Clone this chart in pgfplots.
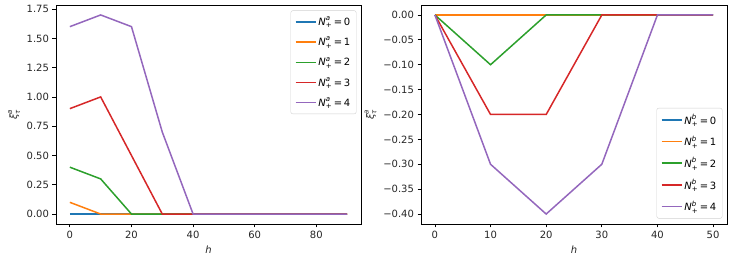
\documentclass[border=0pt]{standalone}
\usepackage{amsmath}
\usepackage{fontspec}
\setmainfont{DejaVu Sans}
\usepackage{pgfplots}
\pgfplotsset{compat=1.18}
\definecolor{C0}{HTML}{1F77B4}
\definecolor{C1}{HTML}{FF7F0E}
\definecolor{C2}{HTML}{2CA02C}
\definecolor{C3}{HTML}{D62728}
\definecolor{C4}{HTML}{9467BD}
\definecolor{txt}{HTML}{262626}
\newcommand{\Nlab}[2]{$\textit{N}^{\textit{#1}}_{\text{+}}$\,=\,#2}
\pgfplotsset{
  mystyle/.style={
    scale only axis,
    anchor=south west,
    axis line style={line width=0.8pt},
    tick style={line width=0.8pt, black},
    tick align=outside,
    major tick length=3.5pt,
    xtick pos=bottom, ytick pos=left,
    tick label style={font=\fontsize{10}{12}\selectfont, text=txt},
    label style={font=\fontsize{10}{12}\selectfont, text=txt},
    /pgf/number format/assume math mode=true,
    every axis plot/.append style={line width=1.5pt, mark=none},
    legend cell align=left,
    legend image code/.code={\draw[##1, line width=1.5pt] (0pt,0pt) -- (20pt,0pt);},
    legend style={draw=black!18, rounded corners=2pt, fill=white, fill opacity=0.8, text opacity=1,
      font=\fontsize{10}{12}\selectfont, inner sep=4pt, row sep=6pt,
      /tikz/every even column/.append style={column sep=5pt}},
  }
}
\begin{document}
\begin{tikzpicture}[x=1pt,y=1pt]
\useasboundingbox (0,0) rectangle (732,264);
\begin{axis}[mystyle,
  at={(56pt,40pt)}, width=305pt, height=219pt,
  xmin=-4.5, xmax=94.5, ymin=-0.085, ymax=1.785,
  xtick={0,20,40,60,80},
  ytick={0,0.25,0.5,0.75,1,1.25,1.5,1.75},
  yticklabels={0.00,0.25,0.50,0.75,1.00,1.25,1.50,1.75},
  xlabel={\textit{h}},
  ylabel={$\textit{ξ}^{\textit{a}}_{\textit{τ}}$},
  legend style={at={(rel axis cs:0.985,0.975)}, anchor=north east},
]
\addplot[C0] coordinates {(0,0) (10,0) (20,0) (30,0) (40,0) (50,0) (60,0) (70,0) (80,0) (90,0)};
\addplot[C1] coordinates {(0,0.1) (10,0) (20,0) (30,0) (40,0) (50,0) (60,0) (70,0) (80,0) (90,0)};
\addplot[C2] coordinates {(0,0.4) (10,0.3) (20,0) (30,0) (40,0) (50,0) (60,0) (70,0) (80,0) (90,0)};
\addplot[C3] coordinates {(0,0.9) (10,1.0) (20,0.5) (30,0) (40,0) (50,0) (60,0) (70,0) (80,0) (90,0)};
\addplot[C4] coordinates {(0,1.6) (10,1.7) (20,1.6) (30,0.7) (40,0) (50,0) (60,0) (70,0) (80,0) (90,0)};
\legend{\Nlab{a}{0},\Nlab{a}{1},\Nlab{a}{2},\Nlab{a}{3},\Nlab{a}{4}}
\end{axis}
\begin{axis}[mystyle,
  at={(421pt,40pt)}, width=306pt, height=219pt,
  xmin=-2.5, xmax=52.5, ymin=-0.42, ymax=0.02,
  xtick={0,10,20,30,40,50},
  ytick={-0.4,-0.35,-0.3,-0.25,-0.2,-0.15,-0.1,-0.05,0},
  yticklabels={−0.40,−0.35,−0.30,−0.25,−0.20,−0.15,−0.10,−0.05,0.00},
  xlabel={\textit{h}},
  ylabel={$\textit{ξ}^{\textit{a}}_{\textit{τ}}$},
  legend style={at={(rel axis cs:0.985,0.025)}, anchor=south east},
]
\addplot[C0] coordinates {(0,0) (10,0) (20,0) (30,0) (40,0) (50,0)};
\addplot[C1] coordinates {(0,0) (10,0) (20,0) (30,0) (40,0) (50,0)};
\addplot[C2] coordinates {(0,0) (10,-0.1) (20,0) (30,0) (40,0) (50,0)};
\addplot[C3] coordinates {(0,0) (10,-0.2) (20,-0.2) (30,0) (40,0) (50,0)};
\addplot[C4] coordinates {(0,0) (10,-0.3) (20,-0.4) (30,-0.3) (40,0) (50,0)};
\legend{\Nlab{b}{0},\Nlab{b}{1},\Nlab{b}{2},\Nlab{b}{3},\Nlab{b}{4}}
\end{axis}
\end{tikzpicture}
\end{document}
